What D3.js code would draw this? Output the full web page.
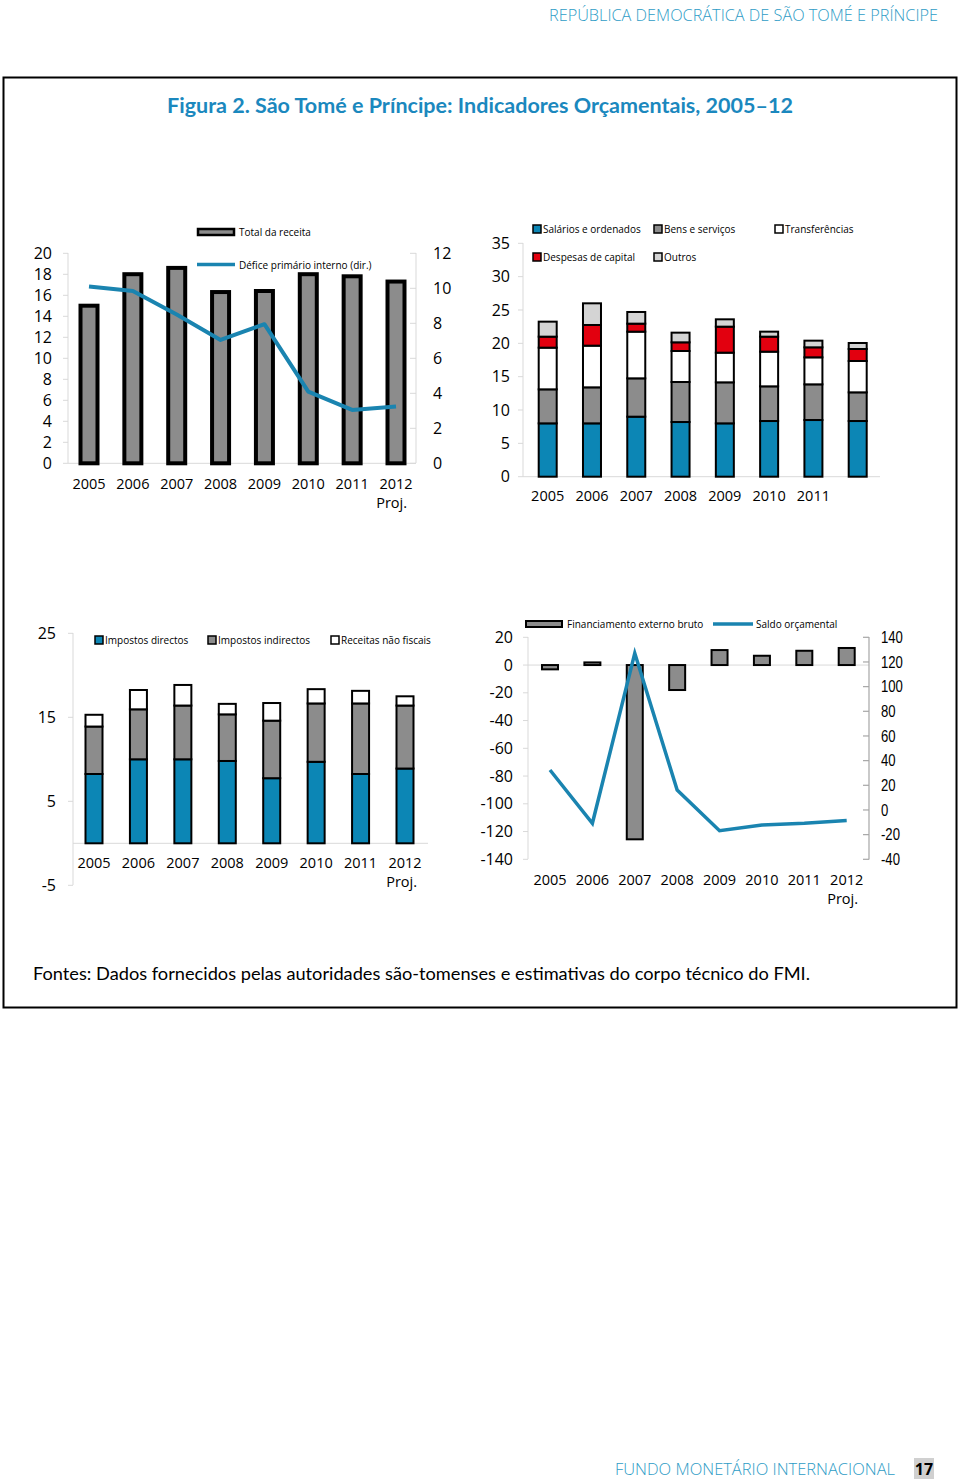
<!DOCTYPE html>
<html><head><meta charset="utf-8">
<script src="https://cdn.jsdelivr.net/npm/d3@7"></script>
<style>
body{margin:0;background:#fff;}
svg{display:block;}
text{font-family:"Open Sans","Noto Sans",sans-serif;}
</style></head>
<body>
<svg id="c" width="960" height="1480"></svg>
<script>
// ---------- data ----------
const years = ["2005","2006","2007","2008","2009","2010","2011","2012"];
// Panel 1 (% of GDP)
const totalRevenue   = [15.2, 18.2, 18.8, 16.5, 16.6, 18.2, 18.0, 17.5];
const primaryDeficit = [10.1, 9.85, 8.5, 7.05, 7.95, 4.1, 3.05, 3.25];
const p1LeftTicks  = [0,2,4,6,8,10,12,14,16,18,20];
const p1RightTicks = [0,2,4,6,8,10,12];
// Panel 2
const salaries      = [8.0, 8.0, 9.0, 8.2, 8.0, 8.35, 8.5, 8.35];
const goodsServices = [5.1, 5.4, 5.75, 6.0, 6.15, 5.2, 5.35, 4.3];
const transfers     = [6.25, 6.25, 7.0, 4.65, 4.45, 5.2, 4.05, 4.7];
const capitalExp    = [1.65, 3.1, 1.2, 1.3, 3.9, 2.25, 1.5, 1.8];
const otherExp      = [2.25, 3.25, 1.75, 1.45, 1.1, 0.75, 1.0, 0.9];
const p2Labels = ["2005","2006","2007","2008","2009","2010","2011",""];
const p2Ticks = [0,5,10,15,20,25,30,35];
// Panel 3
const directTax   = [8.25, 10.0, 10.0, 9.8, 7.75, 9.7, 8.25, 8.9];
const indirectTax = [5.65, 5.95, 6.4, 5.55, 6.85, 6.95, 8.4, 7.5];
const nonTaxRev   = [1.4, 2.3, 2.45, 1.25, 2.1, 1.7, 1.5, 1.1];
const p3Ticks = [-5,5,15,25];
// Panel 4
const extFinancing  = [-3.1, 1.9, -125.6, -18, 10.8, 6.7, 10.3, 12.3];
const budgetBalance = [32.4, -10.8, 127, 16.2, -16.8, -12.2, -10.8, -8.6];
const p4LeftTicks  = [-140,-120,-100,-80,-60,-40,-20,0,20];
const p4RightTicks = [-40,-20,0,20,40,60,80,100,120,140];

const BLUE_LINE = "#1A84B0", BLUE_BAR = "#0C86B5", GRAY = "#8C8C8C", LGRAY = "#D4D4D4", RED = "#E2000F";
const AXIS = "#D9D9D9";
const LEG = 10;
const svg = d3.select("#c");

// ---------- page ----------
svg.append("text").attr("x",938).attr("y",21).attr("text-anchor","end")
  .attr("font-size",15.5).attr("fill","#2E9CC6").attr("font-weight",300)
  .attr("textLength",389).attr("lengthAdjust","spacingAndGlyphs")
  .text("REPÚBLICA DEMOCRÁTICA DE SÃO TOMÉ E PRÍNCIPE");
svg.append("rect").attr("x",3.5).attr("y",77.5).attr("width",953).attr("height",930)
  .attr("fill","none").attr("stroke","#000").attr("stroke-width",2);
svg.append("text").attr("x",480).attr("y",113).attr("text-anchor","middle")
  .attr("font-size",20).attr("font-weight",700).attr("fill","#1B88BE")
  .attr("textLength",626).attr("lengthAdjust","spacingAndGlyphs")
  .style("font-family","Lato, 'Open Sans', sans-serif")
  .text("Figura 2. São Tomé e Príncipe: Indicadores Orçamentais, 2005–12");
svg.append("text").attr("x",33).attr("y",980).attr("font-size",18).attr("fill","#000")
  .attr("textLength",777).attr("lengthAdjust","spacingAndGlyphs")
  .style("font-family","Lato, 'Open Sans', sans-serif")
  .text("Fontes: Dados fornecidos pelas autoridades são-tomenses e estimativas do corpo técnico do FMI.");
svg.append("text").attr("x",895).attr("y",1475).attr("text-anchor","end")
  .attr("font-size",17).attr("fill","#2E9CC6").attr("font-weight",300)
  .attr("textLength",280).attr("lengthAdjust","spacingAndGlyphs")
  .text("FUNDO MONETÁRIO INTERNACIONAL");
svg.append("rect").attr("x",914).attr("y",1458).attr("width",20).attr("height",21).attr("fill","#D0D0D0");
svg.append("text").attr("x",924).attr("y",1475).attr("text-anchor","middle")
  .attr("font-size",16).attr("font-weight",700).attr("fill","#000").text("17");

// ---------- helpers ----------
function leftAxis(g, scale, ticks, x, labelX, fs, y0, y1){
  g.append("line").attr("x1",x).attr("x2",x).attr("y1",y0).attr("y2",y1).attr("stroke",AXIS);
  ticks.forEach(t=>{
    g.append("line").attr("x1",x-5).attr("x2",x).attr("y1",scale(t)).attr("y2",scale(t)).attr("stroke",AXIS);
    g.append("text").attr("x",labelX).attr("y",scale(t)).attr("dy","0.35em").attr("text-anchor","end")
      .attr("font-size",fs).attr("fill","#000").text(t);
  });
}
function xLabels(g, xs, labels, y, proj, fs){
  labels.forEach((l,i)=>{ if(l) g.append("text").attr("x",xs(years[i])).attr("y",y).attr("dy","0.35em")
    .attr("text-anchor","middle").attr("font-size",fs).attr("fill","#000").text(l); });
  if(proj){ g.append("text").attr("x",proj.x).attr("y",y+19).attr("dy","0.35em")
    .attr("text-anchor","end").attr("font-size",fs).attr("fill","#000").text("Proj."); }
}
function sqSwatch(g,x,y,fill,label){
  g.append("rect").attr("x",x).attr("y",y-4).attr("width",8).attr("height",8)
    .attr("fill",fill).attr("stroke","#000").attr("stroke-width",1.5);
  g.append("text").attr("x",x+10).attr("y",y).attr("dy","0.35em").attr("font-size",LEG).attr("fill","#000").text(label);
}

// ---------- Panel 1 ----------
{
  const g = svg.append("g");
  const x = d3.scalePoint().domain(years).range([89,396]);
  const yL = d3.scaleLinear().domain([0,20]).range([463.3,253.3]);
  const yR = d3.scaleLinear().domain([0,12]).range([463.3,253.3]);
  leftAxis(g, yL, p1LeftTicks, 68, 52, 16, 253, 463);
  g.append("line").attr("x1",68).attr("x2",416).attr("y1",463.3).attr("y2",463.3).attr("stroke",AXIS);
  g.append("line").attr("x1",416).attr("x2",416).attr("y1",253).attr("y2",463).attr("stroke",AXIS);
  p1RightTicks.forEach(t=>{
    g.append("line").attr("x1",410).attr("x2",416).attr("y1",yR(t)).attr("y2",yR(t)).attr("stroke",AXIS);
    g.append("text").attr("x",433).attr("y",yR(t)).attr("dy","0.35em").attr("font-size",16).attr("fill","#000").text(t);
  });
  g.selectAll(".b1").data(totalRevenue).enter().append("rect")
    .attr("x",(d,i)=>x(years[i])-8.5).attr("width",17)
    .attr("y",d=>yL(d)+2).attr("height",d=>yL(0)-yL(d)-2)
    .attr("fill",GRAY).attr("stroke","#000").attr("stroke-width",4);
  g.append("path").datum(primaryDeficit)
    .attr("d",d3.line().x((d,i)=>x(years[i])).y(d=>yR(d)))
    .attr("fill","none").attr("stroke",BLUE_LINE).attr("stroke-width",4).attr("stroke-linejoin","round");
  xLabels(g, x, years, 483.5, {x:407}, 14.5);
  // legend
  g.append("rect").attr("x",198).attr("y",229).attr("width",36).attr("height",6)
    .attr("fill",GRAY).attr("stroke","#000").attr("stroke-width",2.5);
  g.append("text").attr("x",239).attr("y",232).attr("dy","0.35em").attr("font-size",LEG).text("Total da receita");
  g.append("line").attr("x1",197).attr("x2",235).attr("y1",264.5).attr("y2",264.5).attr("stroke",BLUE_LINE).attr("stroke-width",3.5);
  g.append("text").attr("x",239).attr("y",265).attr("dy","0.35em").attr("font-size",LEG).text("Défice primário interno (dir.)");
}

// ---------- Panel 2 ----------
{
  const g = svg.append("g");
  const x = d3.scalePoint().domain(years).range([547.7,857.7]);
  const y = d3.scaleLinear().domain([0,35]).range([476.7,243.3]);
  leftAxis(g, y, p2Ticks, 523, 510, 16, 243, 477);
  g.append("line").attr("x1",523).attr("x2",880).attr("y1",476.7).attr("y2",476.7).attr("stroke",AXIS);
  const series = [
    {v:salaries, c:BLUE_BAR}, {v:goodsServices, c:GRAY}, {v:transfers, c:"#fff"},
    {v:capitalExp, c:RED}, {v:otherExp, c:LGRAY}
  ];
  years.forEach((yr,i)=>{
    let base = 0;
    series.forEach(s=>{
      const top = base + s.v[i];
      g.append("rect").attr("x",x(yr)-9).attr("width",18)
        .attr("y",y(top)).attr("height",y(base)-y(top))
        .attr("fill",s.c).attr("stroke","#000").attr("stroke-width",2);
      base = top;
    });
  });
  xLabels(g, x, p2Labels, 496, null, 14.5);
  sqSwatch(g,533,229,BLUE_BAR,"Salários e ordenados");
  sqSwatch(g,654,229,GRAY,"Bens e serviços");
  sqSwatch(g,775,229,"#fff","Transferências");
  sqSwatch(g,533,257,RED,"Despesas de capital");
  sqSwatch(g,654,257,LGRAY,"Outros");
}

// ---------- Panel 3 ----------
{
  const g = svg.append("g");
  const x = d3.scalePoint().domain(years).range([94,405]);
  const y = d3.scaleLinear().domain([-5,25]).range([885.3,633.3]);
  leftAxis(g, y, p3Ticks, 73, 56, 16, 633, 885);
  g.append("line").attr("x1",73).attr("x2",428).attr("y1",y(0)).attr("y2",y(0)).attr("stroke",AXIS);
  const series = [{v:directTax,c:BLUE_BAR},{v:indirectTax,c:GRAY},{v:nonTaxRev,c:"#fff"}];
  years.forEach((yr,i)=>{
    let base = 0;
    series.forEach(s=>{
      const top = base + s.v[i];
      g.append("rect").attr("x",x(yr)-8.5).attr("width",17)
        .attr("y",y(top)).attr("height",y(base)-y(top))
        .attr("fill",s.c).attr("stroke","#000").attr("stroke-width",2);
      base = top;
    });
  });
  xLabels(g, x, years, 863, {x:417}, 14.5);
  sqSwatch(g,95,640,BLUE_BAR,"Impostos directos");
  sqSwatch(g,208,640,GRAY,"Impostos indirectos");
  sqSwatch(g,331,640,"#fff","Receitas não fiscais");
}

// ---------- Panel 4 ----------
{
  const g = svg.append("g");
  const x = d3.scalePoint().domain(years).range([550,846.7]);
  const yL = d3.scaleLinear().domain([-140,20]).range([859.3,637.3]);
  const yR = d3.scaleLinear().domain([-40,140]).range([859.3,637.3]);
  leftAxis(g, yL, p4LeftTicks, 528, 513, 16, 637, 859);
  g.append("line").attr("x1",528).attr("x2",869).attr("y1",yL(0)).attr("y2",yL(0)).attr("stroke",AXIS);
  g.append("line").attr("x1",869).attr("x2",869).attr("y1",637).attr("y2",859.5).attr("stroke","#A6A6A6").attr("stroke-width",1.2);
  const rg = g.append("g").attr("transform","translate(881,0) scale(0.82,1)");
  p4RightTicks.forEach(t=>{
    g.append("line").attr("x1",863).attr("x2",869).attr("y1",yR(t)).attr("y2",yR(t)).attr("stroke","#A6A6A6").attr("stroke-width",1.2);
    rg.append("text").attr("x",0).attr("y",yR(t)).attr("dy","0.35em").attr("font-size",16)
      .style("font-family","'Liberation Sans',Arial,sans-serif")
      .attr("fill","#000").text(t);
  });
  g.selectAll(".b4").data(extFinancing).enter().append("rect")
    .attr("x",(d,i)=>x(years[i])-8).attr("width",16)
    .attr("y",d=>yL(Math.max(0,d))).attr("height",d=>Math.abs(yL(d)-yL(0)))
    .attr("fill",GRAY).attr("stroke","#000").attr("stroke-width",2);
  g.append("path").datum(budgetBalance)
    .attr("d",d3.line().x((d,i)=>x(years[i])).y(d=>yR(d)))
    .attr("fill","none").attr("stroke",BLUE_LINE).attr("stroke-width",3.5).attr("stroke-linejoin","miter");
  xLabels(g, x, years, 880, {x:858}, 14.5);
  g.append("rect").attr("x",526).attr("y",621).attr("width",36).attr("height",6)
    .attr("fill",GRAY).attr("stroke","#000").attr("stroke-width",2);
  g.append("text").attr("x",567).attr("y",624).attr("dy","0.35em").attr("font-size",LEG).text("Financiamento externo bruto");
  g.append("line").attr("x1",713).attr("x2",753).attr("y1",624).attr("y2",624).attr("stroke",BLUE_LINE).attr("stroke-width",3.5);
  g.append("text").attr("x",756).attr("y",624).attr("dy","0.35em").attr("font-size",LEG).text("Saldo orçamental");
}
</script>
</body></html>
